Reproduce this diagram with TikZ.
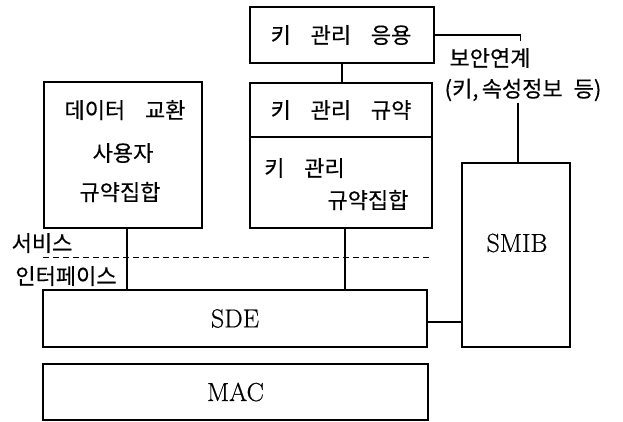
\documentclass[tikz,border=0pt]{standalone}
\usepackage{fontspec}
\newfontfamily\kr[FakeBold=0.3]{Noto Sans CJK KR}
\newfontfamily\latf[FakeBold=0.6]{Latin Modern Roman}
\begin{document}
\begin{tikzpicture}[x=1pt,y=-1pt,
  box/.style={draw,line width=1.3pt,inner sep=0pt},
  ln/.style={line width=1.3pt},
  kr/.style={font=\kr\fontsize{22}{26}\selectfont,inner sep=0pt},
  lat/.style={font=\latf\fontsize{26}{30}\selectfont,inner sep=0pt}]
\useasboundingbox (0,0) rectangle (623,421);
% boxes
\node[box,minimum width=184pt,minimum height=56pt] (app) at (342,35) {};
\node[box,minimum width=182pt,minimum height=145pt] (proto) at (341,155.5) {};
\node[box,minimum width=158pt,minimum height=146pt] (data) at (123,155) {};
\node[box,minimum width=384pt,minimum height=57pt] (sde) at (235,318.5) {};
\node[box,minimum width=385pt,minimum height=56pt] (mac) at (235.5,392) {};
\node[box,minimum width=108pt,minimum height=184pt] (smib) at (516,255) {};
% texts
\node[kr] (tapp) at (341,35) {키\hspace{0.9em}관리\hspace{0.9em}응용};
\node[kr] (tproto) at (341,110) {키\hspace{0.9em}관리\hspace{0.9em}규약};
\node[kr,anchor=west] (tset1) at (264,168) {키\hspace{0.9em}관리};
\node[kr] (tset2) at (368,200) {규약집합};
\node[kr] (td1) at (125,110) {데이터\hspace{0.9em}교환};
\node[kr] (td2) at (123,153) {사용자};
\node[kr] (td3) at (120,192) {규약집합};
\node[kr] (svc1) at (42,243) {서비스};
\node[kr] (svc2) at (66,276) {인터페이스};
\node[kr] (sa1) at (490,58) {보안연계};
\node[kr] (sa2) at (523,90) {(키,\hspace{0.15em}속성정보\hspace{0.5em}등)};
\node[lat] (tsde) at (235,318.5) {SDE};
\node[lat] (tmac) at (235.5,392) {MAC};
\node[lat] (tsmib) at (517,243) {SMIB};
% helper coordinates
\coordinate (cx1) at (127,0);
\coordinate (cx2) at (345,0);
\coordinate (cx3) at (518,0);
\coordinate (cy1) at (0,137);
\coordinate (cy2) at (0,322);
\coordinate (d1) at (43,257);
\coordinate (d2) at (430,257);
% connectors
\draw[ln] (proto.west |- cy1) -- (proto.east |- cy1);
\draw[ln] (app.south) -- (app.south |- proto.north);
\draw[ln] (app.east) -- ++(86,0) -- ++(0,6);
\draw[ln] (sa2.south -| cx3) ++(0,2) -- (smib.north -| cx3);
\draw[ln] (data.south -| cx1) -- (sde.north -| cx1);
\draw[ln] (proto.south -| cx2) -- (sde.north -| cx2);
\draw[ln] (sde.east |- cy2) -- (smib.west |- cy2);
\draw[line width=0.9pt,dash pattern=on 6pt off 4pt] (d1) -- (d2);
\end{tikzpicture}
\end{document}
